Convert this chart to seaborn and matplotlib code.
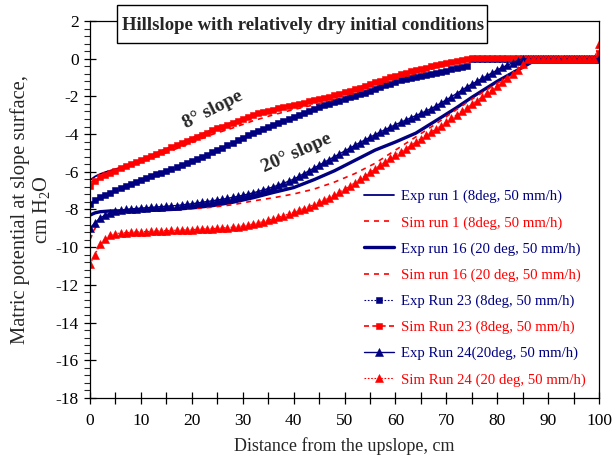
import numpy as np
import pandas as pd
import seaborn as sns
import matplotlib.pyplot as plt
from matplotlib.patches import Rectangle
from matplotlib.ticker import MultipleLocator

sns.set_style("ticks")
plt.rcParams["font.family"] = ["Liberation Serif", "DejaVu Serif"]
plt.rcParams["mathtext.fontset"] = "custom"
plt.rcParams["mathtext.rm"] = "Liberation Serif"
plt.rcParams["axes.unicode_minus"] = False

# distance from upslope (cm) for the marker series, one value per cm
x_cm = np.arange(0, 101)

# Exp Run 23 (8deg) - navy squares
exp23 = [-7.70, -7.48, -7.35, -7.22, -7.10, -6.98, -6.88, -6.77, -6.67, -6.56,
         -6.46, -6.35, -6.24, -6.14, -6.04, -5.95, -5.85, -5.75, -5.65, -5.55,
         -5.45, -5.33, -5.21, -5.09, -4.97, -4.85, -4.72, -4.59, -4.46, -4.33,
         -4.20, -4.07, -3.94, -3.82, -3.71, -3.61, -3.51, -3.41, -3.31, -3.21,
         -3.11, -3.00, -2.89, -2.78, -2.67, -2.56, -2.46, -2.38, -2.30, -2.22,
         -2.14, -2.06, -1.98, -1.90, -1.80, -1.70, -1.60, -1.50, -1.41, -1.32,
         -1.23, -1.15, -1.09, -1.03, -0.97, -0.91, -0.86, -0.81, -0.76, -0.70,
         -0.63, -0.56, -0.50, -0.45, -0.40, 0.00, 0.00, 0.00, 0.00, 0.00,
         0.00, 0.00, 0.00, 0.00, 0.00, 0.00, 0.00, 0.00, 0.00, 0.00,
         0.00, 0.00, 0.00, 0.00, 0.00, 0.00, 0.00, 0.00, 0.00, 0.00,
         0.00]

# Sim Run 23 (8deg) - red squares
sim23 = [-6.75, -6.50, -6.30, -6.15, -6.05, -5.95, -5.82, -5.70, -5.60, -5.50,
         -5.40, -5.28, -5.16, -5.05, -4.93, -4.82, -4.70, -4.58, -4.47, -4.36,
         -4.25, -4.14, -4.03, -3.92, -3.81, -3.70, -3.60, -3.50, -3.40, -3.30,
         -3.20, -3.10, -3.00, -2.90, -2.83, -2.76, -2.70, -2.64, -2.57, -2.51,
         -2.45, -2.39, -2.33, -2.27, -2.21, -2.15, -2.09, -2.02, -1.95, -1.87,
         -1.79, -1.70, -1.62, -1.53, -1.44, -1.35, -1.26, -1.17, -1.08, -0.99,
         -0.90, -0.82, -0.75, -0.68, -0.61, -0.54, -0.47, -0.40, -0.34, -0.28,
         -0.22, -0.16, -0.10, -0.05, 0.00, 0.05, 0.05, 0.05, 0.05, 0.05,
         0.05, 0.05, 0.05, 0.05, 0.05, 0.05, 0.05, 0.05, 0.05, 0.05,
         0.05, 0.05, 0.05, 0.05, 0.05, 0.05, 0.05, 0.05, 0.05, 0.05,
         0.30]

# Exp Run 24 (20deg) - navy triangles
exp24 = [-9.00, -8.70, -8.45, -8.30, -8.18, -8.10, -8.04, -8.00, -7.97, -7.95,
         -7.93, -7.91, -7.89, -7.87, -7.85, -7.83, -7.81, -7.79, -7.76, -7.73,
         -7.70, -7.66, -7.62, -7.58, -7.54, -7.50, -7.46, -7.41, -7.36, -7.31,
         -7.25, -7.19, -7.12, -7.05, -6.97, -6.89, -6.80, -6.71, -6.61, -6.50,
         -6.39, -6.25, -6.10, -5.95, -5.80, -5.65, -5.50, -5.35, -5.20, -5.05,
         -4.90, -4.75, -4.60, -4.45, -4.31, -4.17, -4.03, -3.89, -3.76, -3.63,
         -3.50, -3.38, -3.26, -3.14, -3.02, -2.90, -2.78, -2.65, -2.50, -2.34,
         -2.18, -2.02, -1.85, -1.68, -1.50, -1.35, -1.20, -1.05, -0.90, -0.75,
         -0.60, -0.46, -0.34, -0.22, -0.10, 0.00, 0.00, 0.00, 0.00, 0.00,
         0.00, 0.00, 0.00, 0.00, 0.00, 0.00, 0.00, 0.00, 0.00, 0.00,
         0.00]

# Sim Run 24 (20deg) - red triangles
sim24 = [-10.90, -10.40, -9.85, -9.55, -9.38, -9.28, -9.25, -9.23, -9.21, -9.20,
         -9.18, -9.17, -9.16, -9.15, -9.13, -9.12, -9.11, -9.10, -9.09, -9.08,
         -9.07, -9.05, -9.04, -9.02, -9.01, -9.00, -8.98, -8.96, -8.94, -8.91,
         -8.88, -8.83, -8.77, -8.71, -8.64, -8.57, -8.49, -8.41, -8.33, -8.24,
         -8.15, -8.05, -7.95, -7.85, -7.74, -7.63, -7.51, -7.38, -7.24, -7.09,
         -6.93, -6.76, -6.58, -6.40, -6.22, -6.03, -5.84, -5.65, -5.46, -5.27,
         -5.10, -4.95, -4.78, -4.60, -4.42, -4.24, -4.06, -3.89, -3.72, -3.55,
         -3.36, -3.17, -2.98, -2.79, -2.60, -2.41, -2.22, -2.03, -1.84, -1.65,
         -1.45, -1.25, -1.05, -0.83, -0.60, -0.30, 0.00, 0.00, 0.00, 0.00,
         0.00, 0.00, 0.00, 0.00, 0.00, 0.00, 0.00, 0.00, 0.00, 0.00,
         0.80]

# distance (cm) for the plain line series
x_line = [0, 1, 2, 3, 4, 6, 8, 10, 13, 16, 20, 24, 28, 32, 36, 40, 44, 48, 52,
          56, 60, 64, 68, 72, 75, 80, 85, 88, 90, 95, 100]

exp1 = [-6.45, -6.25, -6.12, -6.02, -5.94, -5.78, -5.58, -5.38, -5.02, -4.68,
        -4.22, -3.78, -3.38, -2.98, -2.68, -2.43, -2.20, -1.94, -1.60, -1.24,
        -0.88, -0.60, -0.33, -0.10, 0.00, 0.00, 0.00, 0.00, 0.00, 0.00, 0.00]
sim1 = [-6.60, -6.40, -6.25, -6.13, -6.03, -5.86, -5.68, -5.50, -5.20, -4.88,
        -4.45, -4.02, -3.68, -3.30, -2.98, -2.70, -2.45, -2.20, -1.90, -1.55,
        -1.15, -0.80, -0.48, -0.20, 0.00, 0.00, 0.00, 0.00, 0.00, 0.00, 0.00]
exp16 = [-8.30, -8.18, -8.12, -8.10, -8.08, -8.07, -8.06, -8.05, -8.03, -8.00,
         -7.92, -7.80, -7.62, -7.38, -7.10, -6.84, -6.42, -5.95, -5.40, -4.85,
         -4.42, -3.95, -3.28, -2.60, -2.05, -1.20, -0.45, 0.00, 0.00, 0.00, 0.00]
sim16 = [-9.60, -9.00, -8.60, -8.40, -8.28, -8.17, -8.12, -8.08, -8.05, -8.02,
         -7.97, -7.88, -7.75, -7.55, -7.38, -7.18, -6.92, -6.55, -6.10, -5.55,
         -4.85, -4.15, -3.45, -2.70, -2.15, -1.30, -0.50, 0.00, 0.00, 0.00, 0.00]

navy = "#000080"
red = "#FF0000"

fig, ax = plt.subplots(figsize=(6.12, 4.66), dpi=100)
fig.subplots_adjust(left=0.147, right=0.979, bottom=0.146, top=0.955)

# (label, x, y, colour, linewidth, linestyle, marker, markersize)
series = [
    ("Exp run 1 (8deg, 50 mm/h)", x_line, exp1, navy, 1.3, "-", None, 0),
    ("Sim run 1 (8deg, 50 mm/h)", x_line, sim1, red, 1.2, (0, (3, 3)), None, 0),
    ("Exp run 16 (20 deg, 50 mm/h)", x_line, exp16, navy, 2.4, "-", None, 0),
    ("Sim run 16 (20 deg, 50 mm/h)", x_line, sim16, red, 1.2, (0, (3, 3)), None, 0),
    ("Exp Run 23 (8deg, 50 mm/h)", x_cm, exp23, navy, 0.8, (0, (1.5, 1.5)), "s", 4.3),
    ("Sim Run 23 (8deg, 50 mm/h)", x_cm, sim23, red, 1.2, (0, (3, 2)), "s", 4.3),
    ("Exp Run 24(20deg, 50 mm/h)", x_cm, exp24, navy, 1.0, "-", "^", 6.0),
    ("Sim Run 24 (20 deg, 50 mm/h)", x_cm, sim24, red, 0.8, (0, (1.5, 1.5)), "^", 6.0),
]

for label, xs, ys, col, lw, ls, mk, ms in series:
    sns.lineplot(x=xs, y=ys, ax=ax, color=col, linewidth=lw, linestyle=ls,
                 marker=mk, markersize=ms, markeredgecolor=col,
                 markeredgewidth=0.4, label=label, sort=False, errorbar=None)

ax.set_xlim(0, 100)
ax.set_ylim(-18, 2)
ax.xaxis.set_major_locator(MultipleLocator(10))
ax.xaxis.set_minor_locator(MultipleLocator(5))
ax.yaxis.set_major_locator(MultipleLocator(2))
ax.yaxis.set_minor_locator(MultipleLocator(0.4))
ax.tick_params(axis="x", which="both", direction="inout", length=8, width=0.9,
               labelsize=12.5, pad=7, colors="black")
ax.tick_params(axis="y", which="major", direction="inout", length=8, width=0.9,
               labelsize=12.5, pad=4, colors="black")
ax.tick_params(axis="y", which="minor", direction="out", length=4, width=0.8)
for sp in ax.spines.values():
    sp.set_color("black")
    sp.set_linewidth(0.9)

ax.set_xlabel("Distance from the upslope, cm", fontsize=13, labelpad=6)
ax.set_ylabel("Matric potential at slope surface,\ncm H$_\\mathregular{2}$O",
              fontsize=14.8, linespacing=1.1, va="center")
ax.yaxis.set_label_coords(-0.115, 0.5)

ax.text(24.2, -2.7, "8° slope", rotation=27, fontsize=14, fontweight="bold",
        ha="center", va="center")
ax.text(40.5, -5.0, "20° slope", rotation=24, fontsize=14, fontweight="bold",
        ha="center", va="center")

handles, labels = ax.get_legend_handles_labels()
leg = ax.legend(handles, labels, loc="upper left",
                bbox_to_anchor=(364 / 612, 1 - 190 / 466),
                bbox_transform=fig.transFigure, frameon=False, fontsize=10.6,
                handlelength=2.05, handletextpad=0.45, labelspacing=0.86,
                borderpad=0, borderaxespad=0)
for txt, (_, _, _, col, *_rest) in zip(leg.get_texts(), series):
    txt.set_color(col)

fig.patches.append(Rectangle((117 / 612, 1 - 43 / 466), 370 / 612, 38 / 466,
                             transform=fig.transFigure, facecolor="white",
                             edgecolor="black", linewidth=1.0, zorder=5))
fig.text(303 / 612, 1 - 25 / 466, "Hillslope with relatively dry initial conditions",
         ha="center", va="center", fontsize=13.5, fontweight="bold", zorder=6)

fig.savefig("out.png", dpi=100)
